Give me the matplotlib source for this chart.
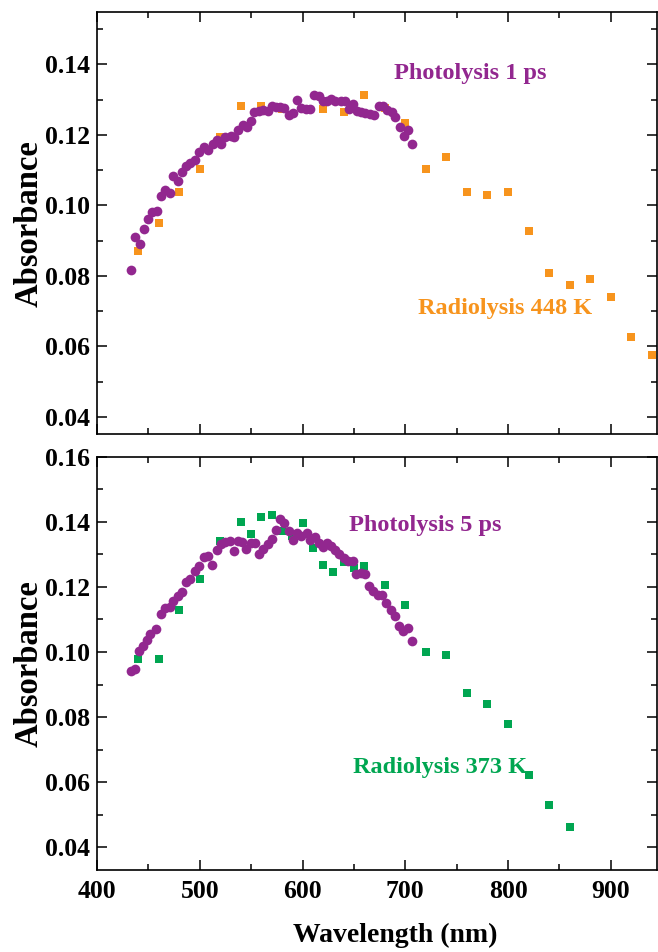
import matplotlib
matplotlib.use("Agg")
import matplotlib.pyplot as plt
from matplotlib.ticker import MultipleLocator

plt.rcParams['font.family'] = ['Liberation Serif', 'DejaVu Serif']
plt.rcParams['font.weight'] = 'bold'

# ---- data ----
p1_wl = [433, 437, 442, 446, 450, 454, 458, 462, 466, 471, 474, 479, 483, 487, 491, 495, 499, 504, 508, 513,
         517, 521, 525, 530, 533, 537, 542, 546, 550, 553, 558, 562, 566, 570, 574, 578, 582, 587, 591, 595,
         599, 603, 607, 611, 616, 620, 624, 628, 632, 637, 641, 645, 649, 653, 657, 661, 666, 670, 674, 678,
         682, 687, 690, 695, 699, 703, 707]
p1_abs = [0.0816, 0.0911, 0.0889, 0.0933, 0.0960, 0.0980, 0.0984, 0.1026, 0.1043, 0.1034, 0.1083, 0.1070,
          0.1095, 0.1111, 0.1120, 0.1128, 0.1152, 0.1166, 0.1156, 0.1173, 0.1185, 0.1175, 0.1194, 0.1196,
          0.1194, 0.1215, 0.1227, 0.1222, 0.1239, 0.1265, 0.1268, 0.1270, 0.1268, 0.1282, 0.1279, 0.1279,
          0.1277, 0.1255, 0.1262, 0.1298, 0.1275, 0.1272, 0.1272, 0.1314, 0.1311, 0.1296, 0.1296, 0.1301,
          0.1296, 0.1296, 0.1296, 0.1272, 0.1287, 0.1268, 0.1265, 0.1262, 0.1260, 0.1255, 0.1281, 0.1281,
          0.1270, 0.1265, 0.1251, 0.1222, 0.1196, 0.1213, 0.1173]

r448_wl = [440, 460, 480, 500, 520, 540, 560, 580, 620, 640, 660, 680, 700, 720, 740, 760, 780, 800,
           820, 840, 860, 880, 900, 920, 940]
r448_abs = [0.0870, 0.0949, 0.1038, 0.1102, 0.1194, 0.1281, 0.1281, 0.1272, 0.1272, 0.1265, 0.1314, 0.1275,
            0.1234, 0.1104, 0.1137, 0.1038, 0.1030, 0.1038, 0.0927, 0.0807, 0.0774, 0.0790, 0.0739,
            0.0626, 0.0575]

p5_wl = [433, 437, 441, 445, 449, 452, 457, 462, 466, 471, 474, 479, 483, 487, 491, 495, 499, 504, 508, 512,
         517, 521, 525, 529, 533, 537, 541, 545, 550, 554, 558, 562, 566, 570, 574, 578, 582, 587, 591, 595,
         599, 604, 607, 612, 616, 620, 624, 628, 632, 636, 640, 644, 649, 652, 657, 661, 665, 669, 673, 677,
         681, 686, 690, 694, 698, 703, 707]
p5_abs = [0.0943, 0.0949, 0.1002, 0.1017, 0.1038, 0.1056, 0.1071, 0.1118, 0.1135, 0.1138, 0.1158, 0.1171,
          0.1184, 0.1214, 0.1225, 0.1248, 0.1263, 0.1292, 0.1294, 0.1268, 0.1314, 0.1333, 0.1338, 0.1340,
          0.1309, 0.1340, 0.1338, 0.1316, 0.1335, 0.1335, 0.1301, 0.1316, 0.1332, 0.1347, 0.1375, 0.1408,
          0.1396, 0.1373, 0.1345, 0.1365, 0.1355, 0.1367, 0.1345, 0.1352, 0.1335, 0.1324, 0.1335, 0.1326,
          0.1312, 0.1302, 0.1289, 0.1281, 0.1281, 0.1240, 0.1243, 0.1240, 0.1204, 0.1186, 0.1176, 0.1176,
          0.1151, 0.1128, 0.1110, 0.1079, 0.1064, 0.1074, 0.1033]

r373_wl = [440, 460, 480, 500, 520, 540, 550, 560, 570, 580, 590, 600, 610, 620, 630, 640, 650, 660,
           680, 700, 720, 740, 760, 780, 800, 820, 840, 860]
r373_abs = [0.0979, 0.0979, 0.1130, 0.1224, 0.1340, 0.1398, 0.1363, 0.1414, 0.1421, 0.1373, 0.1355, 0.1396,
            0.1318, 0.1266, 0.1247, 0.1275, 0.1258, 0.1265, 0.1207, 0.1145, 0.0999, 0.0992, 0.0873,
            0.0840, 0.0779, 0.0622, 0.0531, 0.0461]

PURPLE = '#92278F'
ORANGE = '#F7941D'
GREEN = '#00A651'

fig = plt.figure(figsize=(6.58, 9.52), dpi=100)
ax1 = fig.add_axes([0.1474, 0.5436, 0.8511, 0.4433])
ax2 = fig.add_axes([0.1474, 0.0861, 0.8511, 0.4342])

def style(ax, ylim, yticks, label_y):
    ax.set_xlim(400, 945)
    ax.set_ylim(*ylim)
    ax.xaxis.set_major_locator(MultipleLocator(100))
    ax.xaxis.set_minor_locator(MultipleLocator(50))
    ax.set_yticks(yticks)
    ax.yaxis.set_minor_locator(MultipleLocator(0.01))
    ax.tick_params(which='both', direction='in', top=True, right=True, width=1.1)
    ax.tick_params(which='major', length=7, labelsize=18.5, pad=5)
    ax.tick_params(which='minor', length=4)
    for s in ax.spines.values():
        s.set_linewidth(1.2)
    ax.set_yticklabels([f'{v:.2f}' for v in yticks], fontweight='bold')
    ax.set_ylabel('Absorbance', fontsize=23.5, fontweight='bold')
    ax.yaxis.set_label_coords(-0.093, label_y)

style(ax1, (0.035, 0.1547), [0.04, 0.06, 0.08, 0.10, 0.12, 0.14], 0.5)
style(ax2, (0.033, 0.16), [0.04, 0.06, 0.08, 0.10, 0.12, 0.14, 0.16], 0.5)

ax1.tick_params(axis='x', labelbottom=False)
ax2.set_xticks([400, 500, 600, 700, 800, 900])
ax2.set_xticklabels(['400', '500', '600', '700', '800', '900'], fontweight='bold')
ax2.tick_params(axis='x', pad=7)
ax2.set_xlabel('Wavelength (nm)', fontsize=20, fontweight='bold')
ax2.xaxis.set_label_coords(0.532, -0.127)

ax1.plot(r448_wl, r448_abs, 's', color=ORANGE, markersize=6, markeredgewidth=0, zorder=2, clip_on=False)
ax1.plot(p1_wl, p1_abs, 'o', color=PURPLE, markersize=7, markeredgewidth=0, zorder=3)
ax2.plot(r373_wl, r373_abs, 's', color=GREEN, markersize=6, markeredgewidth=0, zorder=2)
ax2.plot(p5_wl, p5_abs, 'o', color=PURPLE, markersize=7, markeredgewidth=0, zorder=3)

ax1.text(763, 0.1357, 'Photolysis 1 ps', color=PURPLE, fontsize=17.5, fontweight='bold',
         ha='center', va='baseline')
ax1.text(797, 0.0691, 'Radiolysis 448 K', color=ORANGE, fontsize=17.5, fontweight='bold',
         ha='center', va='baseline')
ax2.text(719, 0.1372, 'Photolysis 5 ps', color=PURPLE, fontsize=17.5, fontweight='bold',
         ha='center', va='baseline')
ax2.text(734, 0.0629, 'Radiolysis 373 K', color=GREEN, fontsize=17.5, fontweight='bold',
         ha='center', va='baseline')

fig.savefig('out.png', dpi=100)
